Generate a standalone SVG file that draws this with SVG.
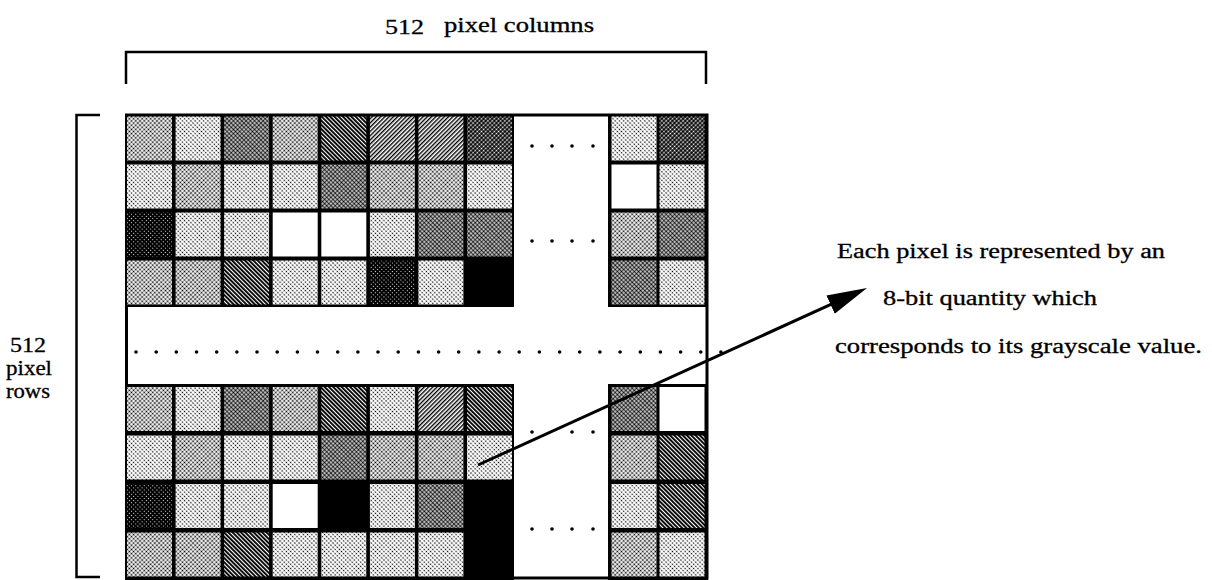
<svg xmlns="http://www.w3.org/2000/svg" width="1212" height="580" viewBox="0 0 1212 580">
  <defs>
    <!-- halftone screens used as grayscale pixel fills -->
    <pattern id="pL" width="3" height="3" patternUnits="userSpaceOnUse" patternTransform="rotate(45)">
      <rect width="3" height="3" fill="#fff"/>
      <circle cx="1.5" cy="1.5" r="0.8" fill="#000"/>
    </pattern>
    <pattern id="pM" width="3" height="3" patternUnits="userSpaceOnUse" patternTransform="rotate(45)">
      <rect width="3" height="3" fill="#fff"/>
      <circle cx="1.5" cy="1.5" r="1.0" fill="#000"/>
    </pattern>
    <pattern id="pD" width="3" height="3" patternUnits="userSpaceOnUse" patternTransform="rotate(45)">
      <rect width="3" height="3" fill="#fff"/>
      <circle cx="1.5" cy="1.5" r="1.25" fill="#000"/>
    </pattern>
    <pattern id="pH" width="3" height="3" patternUnits="userSpaceOnUse" patternTransform="rotate(45)">
      <rect width="3" height="3" fill="#fff"/>
      <rect width="1.4" height="3" fill="#000"/>
    </pattern>
    <pattern id="pHD" width="3" height="3" patternUnits="userSpaceOnUse" patternTransform="rotate(-45)">
      <rect width="3" height="3" fill="#fff"/>
      <rect width="1.9" height="3" fill="#000"/>
    </pattern>
    <pattern id="pK2" width="3" height="3" patternUnits="userSpaceOnUse" patternTransform="rotate(45)">
      <rect width="3" height="3" fill="#000"/>
      <circle cx="1.5" cy="1.5" r="0.9" fill="#fff"/>
    </pattern>
    <pattern id="pK" width="3" height="3" patternUnits="userSpaceOnUse" patternTransform="rotate(45)">
      <rect width="3" height="3" fill="#000"/>
      <circle cx="1.5" cy="1.5" r="0.6" fill="#fff"/>
    </pattern>
    <marker id="head" markerUnits="userSpaceOnUse" markerWidth="42" markerHeight="22" refX="10" refY="10" orient="auto">
      <path d="M0,0 L40,10 L0,20 Z" fill="#000"/>
    </marker>
  </defs>
  <style>
    .L { fill: url(#pL); }
    .M { fill: url(#pM); }
    .D { fill: url(#pD); }
    .H { fill: url(#pH); }
    .HD { fill: url(#pHD); }
    .K { fill: url(#pK); }
    .K2 { fill: url(#pK2); }
    .W { fill: #fff; }
    .B { fill: #000; }
    .block { fill: #000; }
    .rule { fill: none; stroke: #000; stroke-width: 2.5; }
    .dot { fill: #000; }
    text { font-family: "Liberation Serif", "Times New Roman", serif; fill: #000; stroke: #000; stroke-width: 0.3; }
  </style>

  <rect width="1212" height="580" fill="#fff"/>

  <!-- image frame -->
  <g id="pixel-grid">
    <rect x="126.5" y="115" width="580.5" height="463" fill="#fff" stroke="#000" stroke-width="3"/>

    <!-- upper-left block -->
    <g id="block-top-left">
      <rect class="block" x="125" y="114" width="389" height="193"/>
      <!-- row 1 -->
      <rect class="M" x="127" y="116.5" width="45" height="44"/>
      <rect class="L" x="175.6" y="116.5" width="45" height="44"/>
      <rect class="D" x="224.1" y="116.5" width="45" height="44"/>
      <rect class="M" x="272.7" y="116.5" width="45" height="44"/>
      <rect class="HD" x="321.3" y="116.5" width="45" height="44"/>
      <rect class="H" x="369.9" y="116.5" width="45" height="44"/>
      <rect class="H" x="418.4" y="116.5" width="45" height="44"/>
      <rect class="K2" x="467" y="116.5" width="45" height="44"/>
      <!-- row 2 -->
      <rect class="L" x="127" y="164.5" width="45" height="44"/>
      <rect class="M" x="175.6" y="164.5" width="45" height="44"/>
      <rect class="L" x="224.1" y="164.5" width="45" height="44"/>
      <rect class="L" x="272.7" y="164.5" width="45" height="44"/>
      <rect class="D" x="321.3" y="164.5" width="45" height="44"/>
      <rect class="M" x="369.9" y="164.5" width="45" height="44"/>
      <rect class="M" x="418.4" y="164.5" width="45" height="44"/>
      <rect class="L" x="467" y="164.5" width="45" height="44"/>
      <!-- row 3 -->
      <rect class="K" x="127" y="212.5" width="45" height="44"/>
      <rect class="L" x="175.6" y="212.5" width="45" height="44"/>
      <rect class="L" x="224.1" y="212.5" width="45" height="44"/>
      <rect class="W" x="272.7" y="212.5" width="45" height="44"/>
      <rect class="W" x="321.3" y="212.5" width="45" height="44"/>
      <rect class="L" x="369.9" y="212.5" width="45" height="44"/>
      <rect class="D" x="418.4" y="212.5" width="45" height="44"/>
      <rect class="D" x="467" y="212.5" width="45" height="44"/>
      <!-- row 4 -->
      <rect class="M" x="127" y="260.5" width="45" height="44"/>
      <rect class="M" x="175.6" y="260.5" width="45" height="44"/>
      <rect class="HD" x="224.1" y="260.5" width="45" height="44"/>
      <rect class="L" x="272.7" y="260.5" width="45" height="44"/>
      <rect class="L" x="321.3" y="260.5" width="45" height="44"/>
      <rect class="K" x="369.9" y="260.5" width="45" height="44"/>
      <rect class="L" x="418.4" y="260.5" width="45" height="44"/>
      <rect class="B" x="467" y="260.5" width="45" height="44"/>
    </g>

    <!-- upper-right block -->
    <g id="block-top-right">
      <rect class="block" x="608" y="114" width="100" height="193"/>
      <rect class="L" x="611.5" y="116.5" width="45" height="44"/>
      <rect class="K2" x="659.5" y="116.5" width="45" height="44"/>
      <rect class="W" x="611.5" y="164.5" width="45" height="44"/>
      <rect class="L" x="659.5" y="164.5" width="45" height="44"/>
      <rect class="M" x="611.5" y="212.5" width="45" height="44"/>
      <rect class="D" x="659.5" y="212.5" width="45" height="44"/>
      <rect class="D" x="611.5" y="260.5" width="45" height="44"/>
      <rect class="L" x="659.5" y="260.5" width="45" height="44"/>
    </g>

    <!-- lower-left block -->
    <g id="block-bottom-left">
      <rect class="block" x="125" y="384" width="389" height="196"/>
      <!-- row 1 -->
      <rect class="M" x="127" y="387" width="45" height="44"/>
      <rect class="L" x="175.6" y="387" width="45" height="44"/>
      <rect class="D" x="224.1" y="387" width="45" height="44"/>
      <rect class="M" x="272.7" y="387" width="45" height="44"/>
      <rect class="HD" x="321.3" y="387" width="45" height="44"/>
      <rect class="L" x="369.9" y="387" width="45" height="44"/>
      <rect class="H" x="418.4" y="387" width="45" height="44"/>
      <rect class="HD" x="467" y="387" width="45" height="44"/>
      <!-- row 2 -->
      <rect class="L" x="127" y="435.5" width="45" height="44"/>
      <rect class="M" x="175.6" y="435.5" width="45" height="44"/>
      <rect class="L" x="224.1" y="435.5" width="45" height="44"/>
      <rect class="L" x="272.7" y="435.5" width="45" height="44"/>
      <rect class="D" x="321.3" y="435.5" width="45" height="44"/>
      <rect class="M" x="369.9" y="435.5" width="45" height="44"/>
      <rect class="M" x="418.4" y="435.5" width="45" height="44"/>
      <rect class="L" x="467" y="435.5" width="45" height="44"/>
      <!-- row 3 -->
      <rect class="K" x="127" y="484" width="45" height="44"/>
      <rect class="L" x="175.6" y="484" width="45" height="44"/>
      <rect class="L" x="224.1" y="484" width="45" height="44"/>
      <rect class="W" x="272.7" y="484" width="45" height="44"/>
      <rect class="B" x="321.3" y="484" width="45" height="44"/>
      <rect class="L" x="369.9" y="484" width="45" height="44"/>
      <rect class="D" x="418.4" y="484" width="45" height="44"/>
      <rect class="B" x="467" y="484" width="45" height="44"/>
      <!-- row 4 -->
      <rect class="M" x="127" y="532.5" width="45" height="44"/>
      <rect class="M" x="175.6" y="532.5" width="45" height="44"/>
      <rect class="HD" x="224.1" y="532.5" width="45" height="44"/>
      <rect class="L" x="272.7" y="532.5" width="45" height="44"/>
      <rect class="L" x="321.3" y="532.5" width="45" height="44"/>
      <rect class="L" x="369.9" y="532.5" width="45" height="44"/>
      <rect class="L" x="418.4" y="532.5" width="45" height="44"/>
      <rect class="B" x="467" y="532.5" width="45" height="44"/>
    </g>

    <!-- lower-right block -->
    <g id="block-bottom-right">
      <rect class="block" x="608" y="384" width="100" height="196"/>
      <rect class="D" x="611.5" y="387" width="45" height="44"/>
      <rect class="W" x="659.5" y="387" width="45" height="44"/>
      <rect class="M" x="611.5" y="435.5" width="45" height="44"/>
      <rect class="HD" x="659.5" y="435.5" width="45" height="44"/>
      <rect class="L" x="611.5" y="484" width="45" height="44"/>
      <rect class="HD" x="659.5" y="484" width="45" height="44"/>
      <rect class="M" x="611.5" y="532.5" width="45" height="44"/>
      <rect class="L" x="659.5" y="532.5" width="45" height="44"/>
    </g>

    <!-- ellipsis dots for omitted columns -->
    <g id="column-ellipsis">
      <circle class="dot" cx="532" cy="146" r="1.8"/>
      <circle class="dot" cx="552" cy="146" r="1.8"/>
      <circle class="dot" cx="572" cy="146" r="1.8"/>
      <circle class="dot" cx="593" cy="146" r="1.8"/>
      <circle class="dot" cx="532" cy="241" r="1.8"/>
      <circle class="dot" cx="552" cy="241" r="1.8"/>
      <circle class="dot" cx="572" cy="241" r="1.8"/>
      <circle class="dot" cx="593" cy="241" r="1.8"/>
      <circle class="dot" cx="532" cy="432" r="1.8"/>
      <circle class="dot" cx="572" cy="432" r="1.8"/>
      <circle class="dot" cx="593" cy="432" r="1.8"/>
      <circle class="dot" cx="532" cy="529" r="1.8"/>
      <circle class="dot" cx="552" cy="529" r="1.8"/>
      <circle class="dot" cx="572" cy="529" r="1.8"/>
      <circle class="dot" cx="593" cy="529" r="1.8"/>
    </g>

    <!-- ellipsis dots for omitted rows -->
    <g id="row-ellipsis">
      <circle class="dot" cx="136" cy="352" r="1.8"/>
      <circle class="dot" cx="156.2" cy="352" r="1.8"/>
      <circle class="dot" cx="176.3" cy="352" r="1.8"/>
      <circle class="dot" cx="196.5" cy="352" r="1.8"/>
      <circle class="dot" cx="216.7" cy="352" r="1.8"/>
      <circle class="dot" cx="236.9" cy="352" r="1.8"/>
      <circle class="dot" cx="257" cy="352" r="1.8"/>
      <circle class="dot" cx="277.2" cy="352" r="1.8"/>
      <circle class="dot" cx="297.4" cy="352" r="1.8"/>
      <circle class="dot" cx="317.5" cy="352" r="1.8"/>
      <circle class="dot" cx="337.7" cy="352" r="1.8"/>
      <circle class="dot" cx="357.9" cy="352" r="1.8"/>
      <circle class="dot" cx="378" cy="352" r="1.8"/>
      <circle class="dot" cx="398.2" cy="352" r="1.8"/>
      <circle class="dot" cx="418.4" cy="352" r="1.8"/>
      <circle class="dot" cx="438.6" cy="352" r="1.8"/>
      <circle class="dot" cx="458.7" cy="352" r="1.8"/>
      <circle class="dot" cx="478.9" cy="352" r="1.8"/>
      <circle class="dot" cx="499.1" cy="352" r="1.8"/>
      <circle class="dot" cx="519.2" cy="352" r="1.8"/>
      <circle class="dot" cx="539.4" cy="352" r="1.8"/>
      <circle class="dot" cx="559.6" cy="352" r="1.8"/>
      <circle class="dot" cx="579.7" cy="352" r="1.8"/>
      <circle class="dot" cx="599.9" cy="352" r="1.8"/>
      <circle class="dot" cx="620.1" cy="352" r="1.8"/>
      <circle class="dot" cx="640.3" cy="352" r="1.8"/>
      <circle class="dot" cx="660.4" cy="352" r="1.8"/>
      <circle class="dot" cx="680.6" cy="352" r="1.8"/>
      <circle class="dot" cx="700.8" cy="352" r="1.8"/>
      <circle class="dot" cx="720.9" cy="352" r="1.8"/>
    </g>
  </g>

  <!-- column count bracket -->
  <g id="column-label">
    <path class="rule" d="M126,84 V52 H706 V84"/>
    <text x="385" y="34" font-size="21" textLength="39" lengthAdjust="spacingAndGlyphs">512</text>
    <text x="444" y="32" font-size="20" textLength="150" lengthAdjust="spacingAndGlyphs">pixel columns</text>
  </g>

  <!-- row count bracket -->
  <g id="row-label">
    <path class="rule" d="M100,115 H76.5 V577 H100"/>
    <text x="10" y="352" font-size="20" textLength="36" lengthAdjust="spacingAndGlyphs">512</text>
    <text x="6" y="375" font-size="20" textLength="46" lengthAdjust="spacingAndGlyphs">pixel</text>
    <text x="6" y="398" font-size="20" textLength="44" lengthAdjust="spacingAndGlyphs">rows</text>
  </g>

  <!-- explanatory note -->
  <g id="note">
    <text x="837" y="258" font-size="20" textLength="328" lengthAdjust="spacingAndGlyphs">Each pixel is represented by an</text>
    <text x="883" y="305" font-size="20" textLength="214" lengthAdjust="spacingAndGlyphs">8-bit quantity which</text>
    <text x="835" y="353" font-size="20" textLength="367" lengthAdjust="spacingAndGlyphs">corresponds to its grayscale value.</text>
  </g>

  <!-- pointer from a single pixel to the note -->
  <g id="connectors">
    <line x1="478" y1="465" x2="839.7" y2="300.4" stroke="#000" stroke-width="3" marker-end="url(#head)"/>
  </g>
</svg>
